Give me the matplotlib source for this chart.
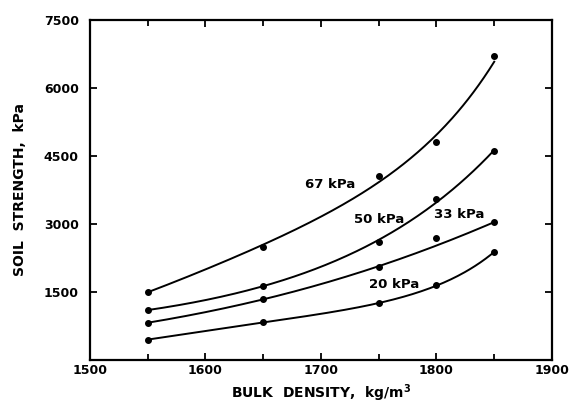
import numpy as np
import matplotlib
matplotlib.use('Agg')
import matplotlib.pyplot as plt

plt.rcParams['font.family'] = ['DejaVu Sans']

# Bulk density (kg/m^3) where soil strength was measured
density = [1550, 1650, 1750, 1800, 1850]

# Soil strength (kPa) for each matric potential
strength_67 = [1500, 2500, 4050, 4800, 6700]
strength_50 = [1100, 1640, 2600, 3550, 4600]
strength_33 = [820, 1350, 2050, 2700, 3050]
strength_20 = [450, 830, 1250, 1650, 2380]

# name, values, fit degree, point weights for the fit, label position
series = [
    ('67 kPa', strength_67, 3, [1, 1, 1.3, 1.3, 1], 1708, 3870),
    ('50 kPa', strength_50, 3, [1, 1, 1, 1, 1], 1750, 3100),
    ('33 kPa', strength_33, 2, [1, 1, 1, 0.1, 1], 1820, 3220),
    ('20 kPa', strength_20, 3, [1, 1, 1, 1, 1], 1763, 1660),
]

xticks = [1500, 1600, 1700, 1800, 1900]
yticks = [1500, 3000, 4500, 6000, 7500]

fig = plt.figure(figsize=(5.71, 4.03), dpi=100)
ax = fig.add_axes([0.1576, 0.1067, 0.8091, 0.8437])

xs = np.linspace(1550, 1850, 200)
for name, vals, deg, w, lx, ly in series:
    # smooth curve fitted to the measured points (in log space)
    coef = np.polyfit(density, np.log(vals), deg, w=w)
    ax.plot(xs, np.exp(np.polyval(coef, xs)), color='black', lw=1.4)
    ax.plot(density, vals, 'o', color='black', ms=4)
    ax.text(lx, ly, name, ha='center', va='center', fontsize=9.5,
            fontweight='bold')

ax.set_xlim(1500, 1900)
ax.set_ylim(0, 7500)
ax.set_xticks(xticks)
ax.set_xticklabels([str(v) for v in xticks])
ax.set_xticks([1550, 1650, 1750, 1850], minor=True)
ax.set_yticks(yticks)
ax.set_yticklabels([str(v) for v in yticks])

ax.tick_params(which='both', direction='in', top=True, right=True,
               width=1.3, labelsize=9)
ax.tick_params(which='major', length=5)
ax.tick_params(which='minor', length=4)
ax.tick_params(axis='x', pad=3)
ax.tick_params(axis='y', pad=8)
for lab in ax.get_xticklabels() + ax.get_yticklabels():
    lab.set_fontweight('bold')
for sp in ax.spines.values():
    sp.set_linewidth(1.6)

ax.set_xlabel('BULK  DENSITY,  kg/m$^\\mathbf{3}$', fontsize=10,
              fontweight='bold', labelpad=4)
ax.set_ylabel('SOIL  STRENGTH,  kPa', fontsize=10, fontweight='bold',
              labelpad=12)

plt.savefig('out.png', dpi=100)
